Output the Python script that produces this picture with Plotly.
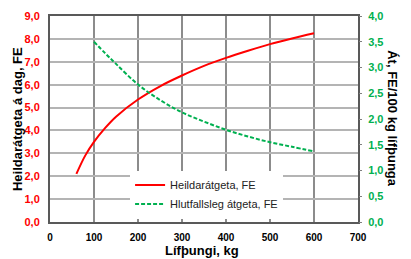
import plotly.graph_objects as go

# Data
weight_red = [60, 80, 100, 125, 150, 200, 250, 300, 350, 400, 450, 500, 550, 600]
heild_fe = [2.1, 2.9, 3.5, 4.1, 4.6, 5.35, 5.93, 6.4, 6.82, 7.17, 7.48, 7.77, 8.02, 8.25]

weight_green = [100, 125, 150, 200, 250, 300, 350, 400, 450, 500, 550, 600]
hlutfall_fe = [3.5, 3.28, 3.07, 2.67, 2.37, 2.13, 1.95, 1.79, 1.66, 1.55, 1.46, 1.37]

x_ticks = [0, 100, 200, 300, 400, 500, 600, 700]

RED = "#ff0000"
GREEN = "#00b050"
FONT = "Liberation Sans, Arial, sans-serif"

fig = go.Figure()
fig.add_trace(go.Scatter(x=weight_red, y=heild_fe, mode="lines", name="Heildarátgeta, FE",
                         line=dict(color=RED, width=2, shape="spline"), yaxis="y"))
fig.add_trace(go.Scatter(x=weight_green, y=hlutfall_fe, mode="lines", name="Hlutfallsleg átgeta, FE",
                         line=dict(color=GREEN, width=2, dash="4px,2px", shape="spline"), yaxis="y2"))

fig.update_layout(
    width=411, height=259,
    margin=dict(l=50, r=53, t=16, b=37, autoexpand=False),
    paper_bgcolor="white", plot_bgcolor="white",
    separators=", ",
    font=dict(family=FONT, color="black"),
    showlegend=True,
    legend=dict(x=0.26, y=0.25, xanchor="left", yanchor="top",
                bgcolor="white", borderwidth=0,
                font=dict(family=FONT, size=11, color="#222"),
                tracegroupgap=0, itemwidth=30),
    xaxis=dict(range=[0, 700], tickvals=x_ticks, showgrid=True, gridcolor="#8c8c8c", gridwidth=1.5,
               showline=True, linecolor="#595959", linewidth=2, mirror=True, zeroline=False,
               automargin=False, ticklabelstandoff=5,
               ticks="", tickfont=dict(family=FONT, size=10, color="black", weight="bold")),
    yaxis=dict(range=[0, 9], dtick=1, tickformat=".1f", showgrid=True, gridcolor="#b4b4b4", gridwidth=2,
               showline=True, linecolor="#595959", linewidth=2, mirror=True, zeroline=False,
               automargin=False,
               ticks="", tickfont=dict(family=FONT, size=11, color=RED, weight="bold"), ticklabelstandoff=6),
    yaxis2=dict(range=[0, 4], dtick=0.5, tickformat=".1f", overlaying="y", side="right",
                showgrid=False, showline=False, zeroline=False, automargin=False,
                ticks="outside", ticklen=3, tickcolor="#808080",
                tickfont=dict(family=FONT, size=11, color=GREEN, weight="bold"), ticklabelstandoff=4),
    annotations=[
        dict(text="<b>Heildarátgeta á dag, FE</b>", xref="paper", yref="paper",
             x=-0.107, y=0.5, xanchor="center", yanchor="middle", textangle=-90,
             showarrow=False, font=dict(family=FONT, size=13, color="black")),
        dict(text="<b>Át, FE/100 kg lífþunga</b>", xref="paper", yref="paper",
             x=1.113, y=0.5, xanchor="center", yanchor="middle", textangle=90,
             showarrow=False, font=dict(family=FONT, size=13, color="black")),
        dict(text="<b>Lífþungi, kg</b>", xref="paper", yref="paper",
             x=0.495, y=-0.14, xanchor="center", yanchor="middle",
             showarrow=False, font=dict(family=FONT, size=13, color="black")),
    ],
)

fig.write_html("out.html", config={"displayModeBar": False},
               post_script="document.body.style.margin='0';")
